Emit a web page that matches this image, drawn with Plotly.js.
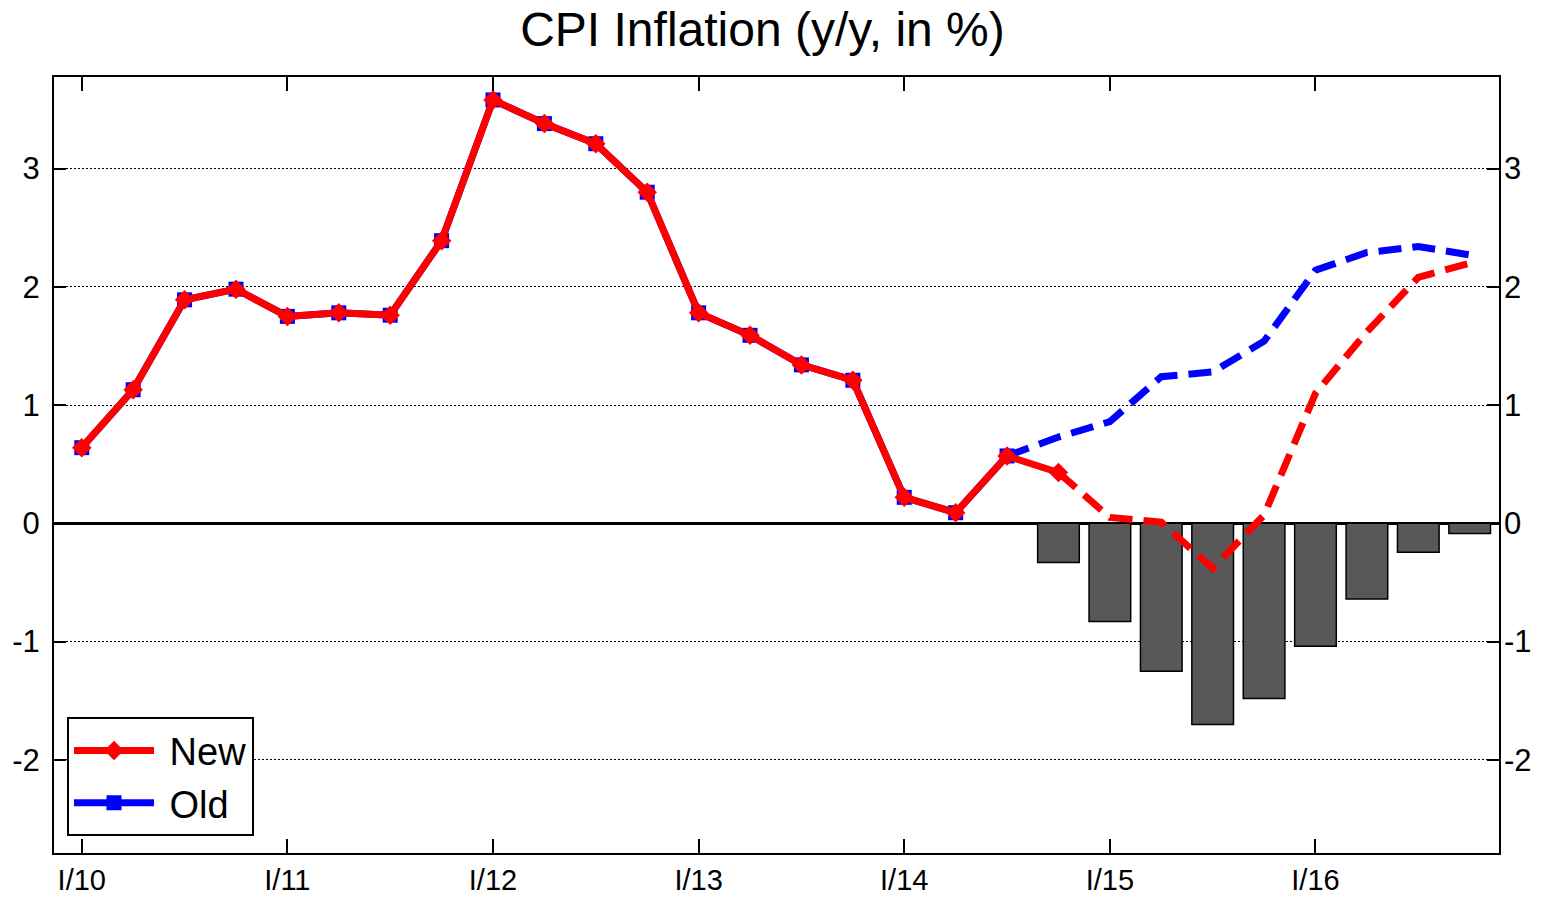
<!DOCTYPE html>
<html>
<head>
<meta charset="utf-8">
<script src="https://cdn.plot.ly/plotly-3.0.1.min.js"></script>
<style>
  html, body { margin: 0; padding: 0; background: #fff; }
  #chart { width: 1545px; height: 898px; }
</style>
</head>
<body>
<div id="chart"></div>
<script>
// ---- data ----
const quarterLabels = [
  'I/10','II/10','III/10','IV/10',
  'I/11','II/11','III/11','IV/11',
  'I/12','II/12','III/12','IV/12',
  'I/13','II/13','III/13','IV/13',
  'I/14','II/14','III/14','IV/14',
  'I/15','II/15','III/15','IV/15',
  'I/16','II/16','III/16','IV/16'
];
const newValues = [0.64,1.13,1.89,1.98,1.75,1.78,1.76,2.39,3.58,3.38,3.21,2.80,1.78,1.59,1.34,1.21,0.22,0.09,0.57,0.43,0.05,0.01,-0.38,0.07,1.10,1.62,2.08,2.20];
const oldValues = [0.64,1.13,1.89,1.98,1.75,1.78,1.76,2.39,3.58,3.38,3.21,2.80,1.78,1.59,1.34,1.21,0.22,0.09,0.57,0.73,0.86,1.24,1.28,1.54,2.14,2.29,2.34,2.27];
const newLastActual = 19;   // index of last actual "New" quarter (IV/14)
const oldLastActual = 18;   // index of last actual "Old" quarter (III/14)
const diffLabels = ['IV/14','I/15','II/15','III/15','IV/15','I/16','II/16','III/16','IV/16'];
const diffValues = [-0.33,-0.83,-1.25,-1.70,-1.48,-1.04,-0.64,-0.245,-0.085];
const xTickVals = ['I/10','I/11','I/12','I/13','I/14','I/15','I/16'];
const yTickVals = [-2,-1,0,1,2,3];
const yTickText = ['-2','-1','0','1','2','3'];
const seriesNames = { newS: 'New', oldS: 'Old' };

// ---- styles ----
const FONT = 'Liberation Sans, Arial, Helvetica, sans-serif';
const RED = '#ff0000', BLUE = '#0000ff';
const LW = 7;
const DASH = '23px,11px';
const yRange = [-2.787, 3.774];
const xRange = [-0.54, 27.57];
const NBSP = '\u00a0';

const traces = [
  {
    type: 'bar', x: diffLabels, y: diffValues, width: 0.81,
    marker: { color: '#585858', line: { color: '#000', width: 1.5 } },
    showlegend: false, hoverinfo: 'skip'
  },
  {
    type: 'scatter', mode: 'lines',
    x: quarterLabels.slice(oldLastActual), y: oldValues.slice(oldLastActual),
    line: { color: BLUE, width: LW, dash: DASH },
    showlegend: false, hoverinfo: 'skip'
  },
  {
    type: 'scatter', mode: 'lines',
    x: quarterLabels.slice(newLastActual), y: newValues.slice(newLastActual),
    line: { color: RED, width: LW, dash: DASH },
    showlegend: false, hoverinfo: 'skip'
  },
  {
    type: 'scatter', mode: 'lines+markers', name: NBSP + seriesNames.oldS,
    x: quarterLabels.slice(0, oldLastActual + 1), y: oldValues.slice(0, oldLastActual + 1),
    line: { color: BLUE, width: LW },
    marker: { symbol: 'square', size: 15, color: BLUE }
  },
  {
    type: 'scatter', mode: 'lines+markers', name: NBSP + seriesNames.newS,
    x: quarterLabels.slice(0, newLastActual + 1), y: newValues.slice(0, newLastActual + 1),
    line: { color: RED, width: LW },
    marker: { symbol: 'diamond', size: 15, color: RED }
  },
  {
    // carrier for the right-hand axis labels
    type: 'scatter', mode: 'markers', x: diffLabels, y: diffValues, yaxis: 'y2',
    marker: { opacity: 0 }, showlegend: false, hoverinfo: 'skip'
  }
];

const layout = {
  width: 1545, height: 898,
  margin: { l: 54, r: 46, t: 77, b: 45, pad: 0 },
  paper_bgcolor: '#fff', plot_bgcolor: '#fff',
  font: { family: FONT, color: '#000' },
  showlegend: true,
  title: {
    text: 'CPI Inflation (y/y, in %)',
    font: { family: FONT, size: 48, color: '#000' },
    xref: 'container', x: 0.4935, xanchor: 'center',
    yref: 'container', y: 1 - 29 / 898, yanchor: 'middle'
  },
  xaxis: {
    type: 'category', categoryorder: 'array', categoryarray: quarterLabels,
    range: xRange, tickmode: 'array', tickvals: xTickVals, ticktext: xTickVals,
    ticks: 'inside', ticklen: 14, tickwidth: 2, tickcolor: '#000',
    showline: true, linecolor: '#000', linewidth: 2, mirror: 'ticks',
    showgrid: false, zeroline: false,
    tickfont: { family: FONT, size: 29, color: '#000' },
    ticklabelstandoff: 0
  },
  yaxis: {
    range: yRange, tickmode: 'array', tickvals: yTickVals, ticktext: yTickText,
    ticks: 'inside', ticklen: 12, tickwidth: 2, tickcolor: '#000',
    showline: true, linecolor: '#000', linewidth: 2, mirror: 'ticks',
    showgrid: true, gridcolor: '#000', gridwidth: 1, griddash: '2px,2px',
    zeroline: true, zerolinecolor: '#000', zerolinewidth: 2.5,
    tickfont: { family: FONT, size: 31, color: '#000' },
    ticklabelstandoff: 6
  },
  yaxis2: {
    overlaying: 'y', side: 'right', range: yRange,
    tickmode: 'array', tickvals: yTickVals, ticktext: yTickText,
    ticks: '', showgrid: false, zeroline: false, showline: false,
    tickfont: { family: FONT, size: 31, color: '#000' },
    ticklabelstandoff: 4
  },
  legend: {
    x: 0.009, xanchor: 'left', y: 0.175, yanchor: 'top',
    bgcolor: '#fff', bordercolor: '#000', borderwidth: 2,
    font: { family: FONT, size: 38, color: '#000' },
    itemwidth: 80, traceorder: 'reversed', tracegroupgap: 0
  },
  bargap: 0
};

Plotly.newPlot('chart', traces, layout, { displayModeBar: false, staticPlot: true });
</script>
</body>
</html>
